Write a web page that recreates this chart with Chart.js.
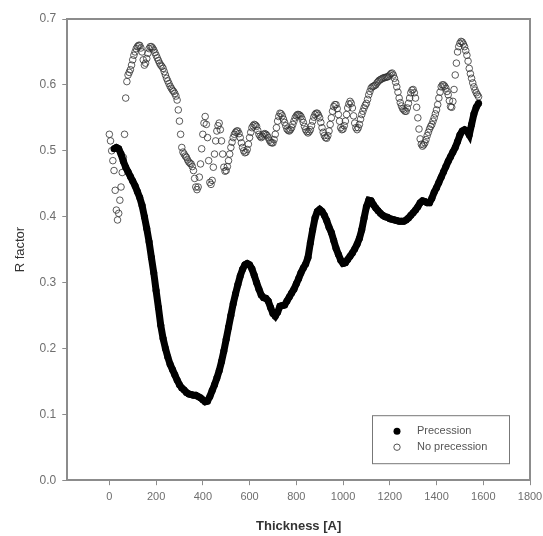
<!DOCTYPE html>
<html lang="en">
<head>
  <meta charset="UTF-8">
  <title>R factor vs Thickness</title>
  <script src="https://cdn.jsdelivr.net/npm/chart.js"></script>
  <style>
    body { margin: 0; background: #fff; }
  </style>
</head>
<body>
  <canvas id="rfactor" width="543" height="536"></canvas>

  <script>
    // Precession (filled circles)
    const thickPrec = [20, 30, 40, 50, 60, 70, 80, 90, 100, 110, 120, 130, 140, 150, 160, 170, 180, 190, 200,
      210, 220, 230, 240, 250, 260, 270, 280, 290, 300, 310, 320, 330, 340, 350, 360, 370, 380, 390, 400,
      410, 420, 430, 440, 450, 460, 470, 480, 490, 500, 510, 520, 530, 540, 550, 560, 570, 580, 590, 600,
      610, 620, 630, 640, 650, 660, 670, 680, 690, 700, 710, 720, 730, 740, 750, 760, 770, 780, 790, 800,
      810, 820, 830, 840, 850, 860, 870, 880, 890, 900, 910, 920, 930, 940, 950, 960, 970, 980, 990, 1000,
      1010, 1020, 1030, 1040, 1050, 1060, 1070, 1080, 1090, 1100, 1110, 1120, 1130, 1140, 1150, 1160, 1170, 1180, 1190, 1200,
      1210, 1220, 1230, 1240, 1250, 1260, 1270, 1280, 1290, 1300, 1310, 1320, 1330, 1340, 1350, 1360, 1370, 1380, 1390, 1400,
      1410, 1420, 1430, 1440, 1450, 1460, 1470, 1480, 1490, 1500, 1510, 1520, 1530, 1540, 1550, 1560, 1570, 1580];
    const rPrec = [0.503, 0.505, 0.503, 0.495, 0.484, 0.475, 0.468, 0.461, 0.454, 0.447, 0.438, 0.429, 0.417, 0.400, 0.382, 0.362, 0.338, 0.315, 0.288,
      0.262, 0.235, 0.215, 0.200, 0.187, 0.176, 0.168, 0.160, 0.152, 0.145, 0.140, 0.137, 0.133, 0.131, 0.130, 0.129, 0.129, 0.127, 0.125, 0.122,
      0.119, 0.120, 0.127, 0.136, 0.145, 0.155, 0.166, 0.180, 0.196, 0.214, 0.232, 0.250, 0.268, 0.283, 0.297, 0.310, 0.320, 0.327, 0.329, 0.327,
      0.321, 0.311, 0.300, 0.290, 0.281, 0.277, 0.276, 0.272, 0.262, 0.253, 0.249, 0.255, 0.264, 0.265, 0.266, 0.272, 0.278, 0.284, 0.290, 0.298,
      0.306, 0.315, 0.322, 0.328, 0.338, 0.360, 0.380, 0.398, 0.408, 0.411, 0.408, 0.402, 0.394, 0.384, 0.376, 0.364, 0.352, 0.343, 0.334, 0.329,
      0.330, 0.335, 0.340, 0.345, 0.351, 0.358, 0.367, 0.380, 0.398, 0.415, 0.425, 0.424, 0.418, 0.413, 0.409, 0.405, 0.402, 0.400, 0.399, 0.397,
      0.396, 0.395, 0.394, 0.393, 0.393, 0.393, 0.395, 0.398, 0.402, 0.406, 0.410, 0.415, 0.421, 0.424, 0.423, 0.421, 0.421, 0.428, 0.437, 0.444,
      0.452, 0.460, 0.468, 0.476, 0.484, 0.491, 0.498, 0.505, 0.514, 0.524, 0.530, 0.532, 0.530, 0.524, 0.540, 0.556, 0.566, 0.572];

    // No precession (open circles), every 5 A
    const thickNoPrec = [
      0, 5, 10, 15, 20, 25, 30, 35, 40, 45, 50, 55, 60, 65, 70, 75, 80, 85, 90, 95,
      100, 105, 110, 115, 120, 125, 130, 135, 140, 145, 150, 155, 160, 165, 170, 175, 180, 185, 190, 195,
      200, 205, 210, 215, 220, 225, 230, 235, 240, 245, 250, 255, 260, 265, 270, 275, 280, 285, 290, 295,
      300, 305, 310, 315, 320, 325, 330, 335, 340, 345, 350, 355, 360, 365, 370, 375, 380, 385, 390, 395,
      400, 405, 410, 415, 420, 425, 430, 435, 440, 445, 450, 455, 460, 465, 470, 475, 480, 485, 490, 495,
      500, 505, 510, 515, 520, 525, 530, 535, 540, 545, 550, 555, 560, 565, 570, 575, 580, 585, 590, 595,
      600, 605, 610, 615, 620, 625, 630, 635, 640, 645, 650, 655, 660, 665, 670, 675, 680, 685, 690, 695,
      700, 705, 710, 715, 720, 725, 730, 735, 740, 745, 750, 755, 760, 765, 770, 775, 780, 785, 790, 795,
      800, 805, 810, 815, 820, 825, 830, 835, 840, 845, 850, 855, 860, 865, 870, 875, 880, 885, 890, 895,
      900, 905, 910, 915, 920, 925, 930, 935, 940, 945, 950, 955, 960, 965, 970, 975, 980, 985, 990, 995,
      1000, 1005, 1010, 1015, 1020, 1025, 1030, 1035, 1040, 1045, 1050, 1055, 1060, 1065, 1070, 1075, 1080, 1085, 1090, 1095,
      1100, 1105, 1110, 1115, 1120, 1125, 1130, 1135, 1140, 1145, 1150, 1155, 1160, 1165, 1170, 1175, 1180, 1185, 1190, 1195,
      1200, 1205, 1210, 1215, 1220, 1225, 1230, 1235, 1240, 1245, 1250, 1255, 1260, 1265, 1270, 1275, 1280, 1285, 1290, 1295,
      1300, 1305, 1310, 1315, 1320, 1325, 1330, 1335, 1340, 1345, 1350, 1355, 1360, 1365, 1370, 1375, 1380, 1385, 1390, 1395,
      1400, 1405, 1410, 1415, 1420, 1425, 1430, 1435, 1440, 1445, 1450, 1455, 1460, 1465, 1470, 1475, 1480, 1485, 1490, 1495,
      1500, 1505, 1510, 1515, 1520, 1525, 1530, 1535, 1540, 1545, 1550, 1555, 1560, 1565, 1570, 1575, 1580];
    const rNoPrec = [
      0.525, 0.515, 0.500, 0.485, 0.470, 0.440, 0.410, 0.395, 0.405, 0.425, 0.445, 0.467, 0.490, 0.525, 0.580, 0.605, 0.615, 0.619, 0.623, 0.630,
      0.638, 0.645, 0.650, 0.655, 0.658, 0.660, 0.660, 0.656, 0.650, 0.638, 0.630, 0.633, 0.640, 0.648, 0.655, 0.658, 0.658, 0.656, 0.653, 0.649,
      0.645, 0.641, 0.637, 0.633, 0.630, 0.628, 0.625, 0.620, 0.615, 0.610, 0.606, 0.602, 0.598, 0.595, 0.592, 0.590, 0.587, 0.583, 0.577, 0.562,
      0.545, 0.525, 0.505, 0.498, 0.495, 0.492, 0.490, 0.486, 0.483, 0.481, 0.480, 0.476, 0.470, 0.458, 0.445, 0.441, 0.445, 0.460, 0.480, 0.503,
      0.525, 0.542, 0.552, 0.540, 0.520, 0.485, 0.452, 0.449, 0.455, 0.475, 0.495, 0.515, 0.530, 0.538, 0.542, 0.532, 0.515, 0.495, 0.475, 0.469,
      0.470, 0.476, 0.485, 0.495, 0.505, 0.513, 0.520, 0.525, 0.528, 0.530, 0.530, 0.526, 0.520, 0.512, 0.505, 0.500, 0.497, 0.498, 0.502, 0.510,
      0.520, 0.528, 0.535, 0.538, 0.540, 0.539, 0.537, 0.531, 0.525, 0.522, 0.520, 0.522, 0.525, 0.526, 0.525, 0.523, 0.520, 0.516, 0.513, 0.512,
      0.512, 0.517, 0.525, 0.535, 0.545, 0.552, 0.557, 0.556, 0.553, 0.548, 0.543, 0.538, 0.533, 0.531, 0.530, 0.532, 0.535, 0.540, 0.545, 0.550,
      0.553, 0.555, 0.555, 0.554, 0.552, 0.548, 0.543, 0.537, 0.532, 0.529, 0.527, 0.529, 0.532, 0.538, 0.545, 0.551, 0.555, 0.557, 0.557, 0.554,
      0.550, 0.543, 0.535, 0.528, 0.523, 0.520, 0.519, 0.523, 0.530, 0.540, 0.550, 0.560, 0.567, 0.570, 0.570, 0.564, 0.555, 0.545, 0.535, 0.532,
      0.533, 0.538, 0.545, 0.555, 0.565, 0.571, 0.575, 0.572, 0.565, 0.553, 0.542, 0.535, 0.532, 0.535, 0.540, 0.548, 0.555, 0.560, 0.565, 0.569,
      0.572, 0.578, 0.585, 0.590, 0.595, 0.597, 0.598, 0.599, 0.600, 0.603, 0.605, 0.607, 0.608, 0.609, 0.610, 0.611, 0.611, 0.612, 0.612, 0.613,
      0.615, 0.617, 0.618, 0.615, 0.610, 0.604, 0.597, 0.589, 0.580, 0.573, 0.568, 0.564, 0.562, 0.560, 0.560, 0.565, 0.572, 0.580, 0.588, 0.592,
      0.593, 0.588, 0.580, 0.566, 0.550, 0.533, 0.518, 0.510, 0.507, 0.509, 0.512, 0.517, 0.523, 0.528, 0.533, 0.537, 0.540, 0.545, 0.550, 0.556,
      0.562, 0.570, 0.580, 0.589, 0.597, 0.600, 0.600, 0.598, 0.595, 0.590, 0.585, 0.576, 0.567, 0.566, 0.575, 0.593, 0.615, 0.633, 0.650, 0.658,
      0.663, 0.666, 0.665, 0.662, 0.658, 0.652, 0.645, 0.636, 0.625, 0.617, 0.610, 0.603, 0.597, 0.592, 0.588, 0.585, 0.582];

    const xTicks = [0, 200, 400, 600, 800, 1000, 1200, 1400, 1600, 1800];
    const seriesNames = ['Precession', 'No precession'];

    const axisGray = '#8c8c8c';
    const labelGray = '#6e6e6e';

    // frame on top/right plus the boxed legend inside the plot
    const framePlugin = {
      id: 'frame',
      afterDraw(chart) {
        const { ctx, chartArea: a } = chart;
        ctx.save();
        ctx.strokeStyle = axisGray;
        ctx.lineWidth = 2;
        ctx.beginPath();
        ctx.moveTo(a.left, a.top);
        ctx.lineTo(a.right, a.top);
        ctx.lineTo(a.right, a.bottom);
        ctx.stroke();

        // legend box
        const bx = a.right - 158, by = a.bottom - 65, bw = 137, bh = 48;
        ctx.lineWidth = 1;
        ctx.strokeStyle = '#777';
        ctx.strokeRect(bx + 0.5, by + 0.5, bw, bh);

        ctx.beginPath();
        ctx.fillStyle = '#000';
        ctx.arc(bx + 25, by + 16, 3.5, 0, Math.PI * 2);
        ctx.fill();
        ctx.beginPath();
        ctx.strokeStyle = '#555';
        ctx.arc(bx + 25, by + 32, 3.2, 0, Math.PI * 2);
        ctx.stroke();

        ctx.fillStyle = '#555';
        ctx.font = '11px Arial, "Liberation Sans", sans-serif';
        ctx.textBaseline = 'middle';
        ctx.fillText(seriesNames[0], bx + 45, by + 16);
        ctx.fillText(seriesNames[1], bx + 45, by + 32);
        ctx.restore();
      }
    };

    const ctx = document.getElementById('rfactor').getContext('2d');
    new Chart(ctx, {
      type: 'scatter',
      data: {
        datasets: [
          {
            label: seriesNames[0],
            data: thickPrec.map((t, i) => ({ x: t, y: rPrec[i] })),
            showLine: true,
            borderColor: '#000',
            borderWidth: 7,
            backgroundColor: '#000',
            pointRadius: 3.5,
            pointBorderWidth: 0
          },
          {
            label: seriesNames[1],
            data: thickNoPrec.map((t, i) => ({ x: t, y: rNoPrec[i] })),
            showLine: false,
            borderColor: 'rgba(50,50,50,0.8)',
            backgroundColor: 'rgba(255,255,255,0)',
            pointRadius: 3.3,
            pointBorderWidth: 1
          }
        ]
      },
      options: {
        responsive: false,
        animation: false,
        layout: { padding: { top: 19, right: 13, left: 13, bottom: 2 } },
        plugins: {
          legend: { display: false },
          tooltip: { enabled: false }
        },
        scales: {
          x: {
            type: 'linear',
            min: -180,
            max: 1800,
            afterBuildTicks: axis => { axis.ticks = xTicks.map(v => ({ value: v })); },
            // let the last label run past the frame like the original
            afterFit: axis => { axis.paddingRight = 0; },
            grid: { drawOnChartArea: false, drawTicks: true, tickLength: 5, color: axisGray },
            border: { display: true, color: axisGray, width: 2 },
            ticks: {
              color: labelGray,
              font: { family: 'Arial, "Liberation Sans"', size: 11 },
              padding: 5,
              maxRotation: 0,
              callback: v => String(v)
            },
            title: {
              display: true,
              text: 'Thickness [A]',
              color: '#333',
              font: { family: 'Arial, "Liberation Sans"', size: 13, weight: 'bold' },
              padding: { top: 10, bottom: 0 }
            }
          },
          y: {
            min: 0,
            max: 0.7,
            ticks: {
              stepSize: 0.1,
              color: labelGray,
              font: { family: 'Arial, "Liberation Sans"', size: 12 },
              padding: 6,
              callback: v => v.toFixed(1)
            },
            grid: { drawOnChartArea: false, drawTicks: true, tickLength: 5, color: axisGray },
            border: { display: true, color: axisGray, width: 2 },
            title: {
              display: true,
              text: 'R factor',
              color: '#333',
              font: { family: 'Arial, "Liberation Sans"', size: 13 },
              padding: { top: 0, bottom: 5 }
            }
          }
        }
      },
      plugins: [framePlugin]
    });
  </script>
</body>
</html>
